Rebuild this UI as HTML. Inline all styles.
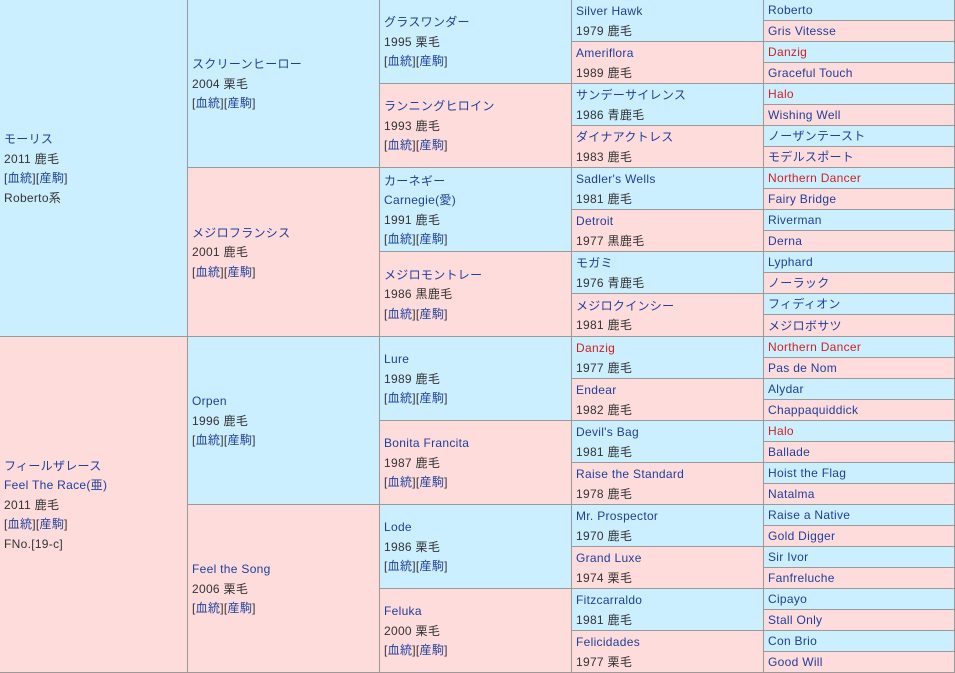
<!DOCTYPE html>
<html><head><meta charset="utf-8"><style>
html,body{margin:0;padding:0;width:955px;height:673px;overflow:hidden;background:#fff}
body{position:relative;font-family:"Liberation Sans","Noto Sans CJK JP",sans-serif;font-size:12px;color:#333}
.c{position:absolute;box-sizing:border-box;border-right:1px solid #9a9a9a;border-bottom:1px solid #9a9a9a;display:flex;flex-direction:column;justify-content:center;padding-left:4px;padding-top:2px;line-height:19.5px;white-space:nowrap;overflow:hidden;letter-spacing:0.3px}
.b{background:#ccefff}.p{background:#ffdcdc}
.l{color:#1d3f9e}.r{color:#d81e1e}
</style></head><body>
<div id="t"></div>
<script>
const t=document.getElementById('t');let h='';
function cell(x,w,y,hh,cls,lines){h+=`<div class="c ${cls}" style="left:${x}px;width:${w}px;top:${y}px;height:${hh}px">${lines.map(s=>`<div>${s}</div>`).join('')}</div>`;}
const L=s=>`<span class="l">${s}</span>`,R=s=>`<span class="r">${s}</span>`,K=`[${L('血統')}][${L('産駒')}]`;
const xs=[0,188,380,572,764,955];
function yy(i,n){return Math.round(i*673/n);}
const g1=[[L('モーリス'),'2011 鹿毛',K,'Roberto系'],[L('フィールザレース'),L('Feel The Race(亜)'),'2011 鹿毛',K,'FNo.[19-c]']];
const g2=[[L('スクリーンヒーロー'),'2004 栗毛',K],[L('メジロフランシス'),'2001 鹿毛',K],[L('Orpen'),'1996 鹿毛',K],[L('Feel the Song'),'2006 栗毛',K]];
const g3=[[L('グラスワンダー'),'1995 栗毛',K],[L('ランニングヒロイン'),'1993 鹿毛',K],[L('カーネギー'),L('Carnegie(愛)'),'1991 鹿毛',K],[L('メジロモントレー'),'1986 黒鹿毛',K],[L('Lure'),'1989 鹿毛',K],[L('Bonita Francita'),'1987 鹿毛',K],[L('Lode'),'1986 栗毛',K],[L('Feluka'),'2000 栗毛',K]];
const g4=[['Silver Hawk','1979 鹿毛'],['Ameriflora','1989 鹿毛'],['サンデーサイレンス','1986 青鹿毛'],['ダイナアクトレス','1983 鹿毛'],["Sadler's Wells",'1981 鹿毛'],['Detroit','1977 黒鹿毛'],['モガミ','1976 青鹿毛'],['メジロクインシー','1981 鹿毛'],['*Danzig','1977 鹿毛'],['Endear','1982 鹿毛'],["Devil's Bag",'1981 鹿毛'],['Raise the Standard','1978 鹿毛'],['Mr. Prospector','1970 鹿毛'],['Grand Luxe','1974 栗毛'],['Fitzcarraldo','1981 鹿毛'],['Felicidades','1977 栗毛']];
const g5=['Roberto','Gris Vitesse','*Danzig','Graceful Touch','*Halo','Wishing Well','ノーザンテースト','モデルスポート','*Northern Dancer','Fairy Bridge','Riverman','Derna','Lyphard','ノーラック','フィディオン','メジロボサツ','*Northern Dancer','Pas de Nom','Alydar','Chappaquiddick','*Halo','Ballade','Hoist the Flag','Natalma','Raise a Native','Gold Digger','Sir Ivor','Fanfreluche','Cipayo','Stall Only','Con Brio','Good Will'];
const nm=s=>s[0]=='*'?R(s.slice(1)):L(s);
[g1,g2,g3].forEach((g,ci)=>{const n=g.length;g.forEach((ls,i)=>cell(xs[ci],xs[ci+1]-xs[ci],yy(i,n),yy(i+1,n)-yy(i,n),i%2?'p':'b',ls));});
g4.forEach((d,i)=>cell(xs[3],192,yy(i,16),yy(i+1,16)-yy(i,16),i%2?'p':'b',[nm(d[0]),d[1]]));
g5.forEach((d,i)=>cell(xs[4],191,yy(i,32),yy(i+1,32)-yy(i,32),i%2?'p':'b',[nm(d)]));
t.innerHTML=h;
</script>
</body></html>
